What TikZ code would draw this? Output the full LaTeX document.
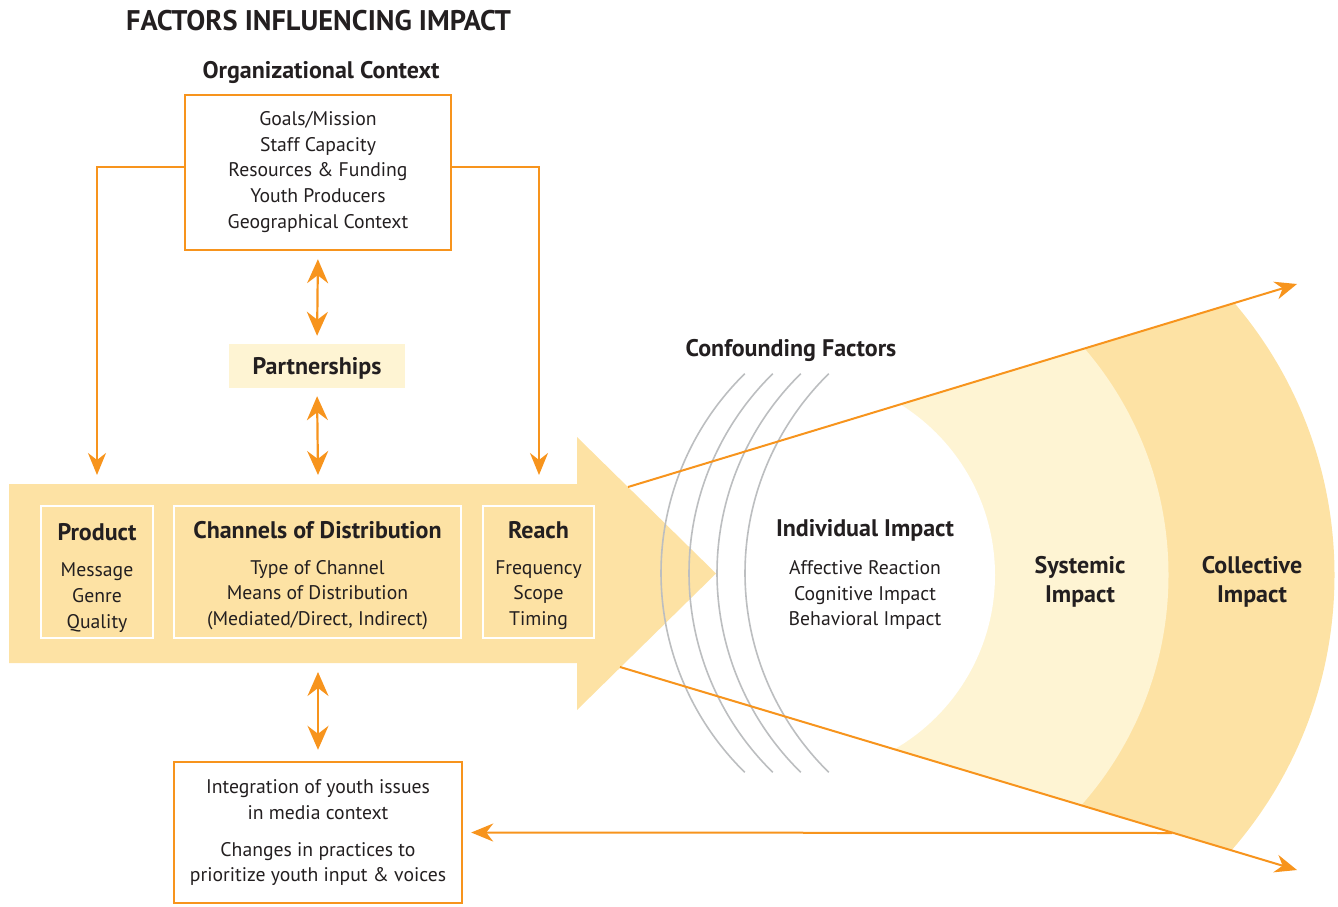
\documentclass[tikz,border=0pt]{standalone}
\usepackage{fontspec}
\setmainfont{PT Sans}
\usetikzlibrary{arrows.meta}
\definecolor{org}{HTML}{F7941D}
\definecolor{darkY}{HTML}{FDE2A4}
\definecolor{lightY}{HTML}{FEF4D3}
\definecolor{txt}{HTML}{231F20}
\definecolor{arcgray}{HTML}{BCBEC0}
\begin{document}
\begin{tikzpicture}[x=1pt,y=-1pt,
  body/.style={font=\fontsize{19.7}{25.75}\selectfont, text=txt, align=center, inner sep=0pt},
  head/.style={font=\bfseries\fontsize{24}{29}\selectfont, text=txt, align=center, inner sep=0pt},
  obox/.style={draw=org, line width=2.4pt, inner sep=0pt},
  wbox/.style={draw=white, line width=2pt, inner sep=0pt},
  oarr/.style={draw=org, line width=2pt, -{Stealth[length=22pt,width=18pt,inset=7pt]}},
  darr/.style={draw=org, line width=2.2pt, {Stealth[length=24pt,width=21pt,inset=8pt]}-{Stealth[length=24pt,width=21pt,inset=8pt]}},
  garc/.style={draw=arcgray, line width=1.6pt}
]
\useasboundingbox (0,0) rectangle (1338,907);

% impact wedge fills
\begin{scope}
  \clip (328,578) -- (1338,271.6) -- (1338,882) -- cycle;
  \fill[darkY] (915,575) circle[radius=419.5];
  \fill[lightY] (821,575) circle[radius=347.5];
  \fill[white] (794,575) circle[radius=201];
\end{scope}

% big arrow
\fill[darkY] (9,484) -- (577,484) -- (577,437) -- (716,573.5) -- (577,710) -- (577,663) -- (9,663) -- cycle;

% confounding arcs
\foreach \cx in {940,968,996,1024}
  \draw[garc] (\cx,573) ++(134.4:279) arc[start angle=134.4, end angle=225.6, radius=279];

% diagonals
\coordinate (u0) at (628,487);
\coordinate (u1) at (1297,284);
\coordinate (l0) at (620,667);
\coordinate (l1) at (1297,870);
\coordinate (hb) at (1172,833);
\draw[oarr] (u0) -- (u1);
\draw[oarr] (l0) -- (l1);

% title
\node[font=\bfseries\fontsize{28.4}{32}\selectfont, text=txt, inner sep=0pt] (title) at (318.5,20.5) {FACTORS INFLUENCING IMPACT};
\node[head] (orgtitle) at (321,72) {Organizational Context};

% organizational box
\node[obox, minimum width=266pt, minimum height=155pt] (orgbox) at (318,172.5) {};
\node[body] (orgtext) at (318,172) {Goals/Mission\\Staff Capacity\\Resources \& Funding\\Youth Producers\\Geographical Context};

% partnerships
\node[fill=lightY, minimum width=176pt, minimum height=44pt, inner sep=0pt] (part) at (317,366) {};
\node[head] (parttext) at (317,368) {Partnerships};

% tips on the big arrow
\coordinate (tipL) at (97,475);
\coordinate (tipM) at (318,475);
\coordinate (tipR) at (539,475);
\coordinate (botM) at (318,672);

\draw[oarr] ([yshift=5.5pt]orgbox.west) -| (tipL);
\draw[oarr] ([yshift=5.5pt]orgbox.east) -| (tipR);
\draw[darr, shorten <=8pt, shorten >=8pt] (orgbox.south) -- (part.north);
\draw[darr, shorten <=8pt] (part.south) -- (tipM);

% inner boxes
\node[wbox, minimum width=112pt, minimum height=132pt] (prod) at (97,572) {};
\node[wbox, minimum width=287pt, minimum height=132pt] (chan) at (317.5,572) {};
\node[wbox, minimum width=111pt, minimum height=132pt] (reach) at (538.5,572) {};
\node[head] (prodt) at (97,532) {Product};
\node[body] (prodi) at (97,597.5) {Message\\Genre\\Quality};
\node[head] (chant) at (317.5,530) {Channels of Distribution};
\node[body] (chani) at (317.5,595) {Type of Channel\\Means of Distribution\\(Mediated/Direct, Indirect)};
\node[head] (reacht) at (538.5,530) {Reach};
\node[body] (reachi) at (538.5,595) {Frequency\\Scope\\Timing};

% impacts
\node[head] (conf) at (791,350) {Confounding Factors};
\node[head] (indt) at (865,530) {Individual Impact};
\node[body] (indi) at (865,595) {Affective Reaction\\Cognitive Impact\\Behavioral Impact};
\node[head] (sys) at (1080,581.5) {Systemic\\Impact};
\node[head] (coll) at (1252,581.5) {Collective\\Impact};

% bottom box
\node[obox, minimum width=288pt, minimum height=141pt] (botbox) at (318,832.5) {};
\node[body] (bot1) at (318,800) {Integration of youth issues\\in media context};
\node[body] (bot2) at (318,864) {Changes in practices to\\prioritize youth input \& voices};

\draw[darr, shorten >=11pt] (botM) -- (botbox.north);
\draw[oarr, shorten >=8pt] (hb) -- (botbox.east);
\end{tikzpicture}
\end{document}
